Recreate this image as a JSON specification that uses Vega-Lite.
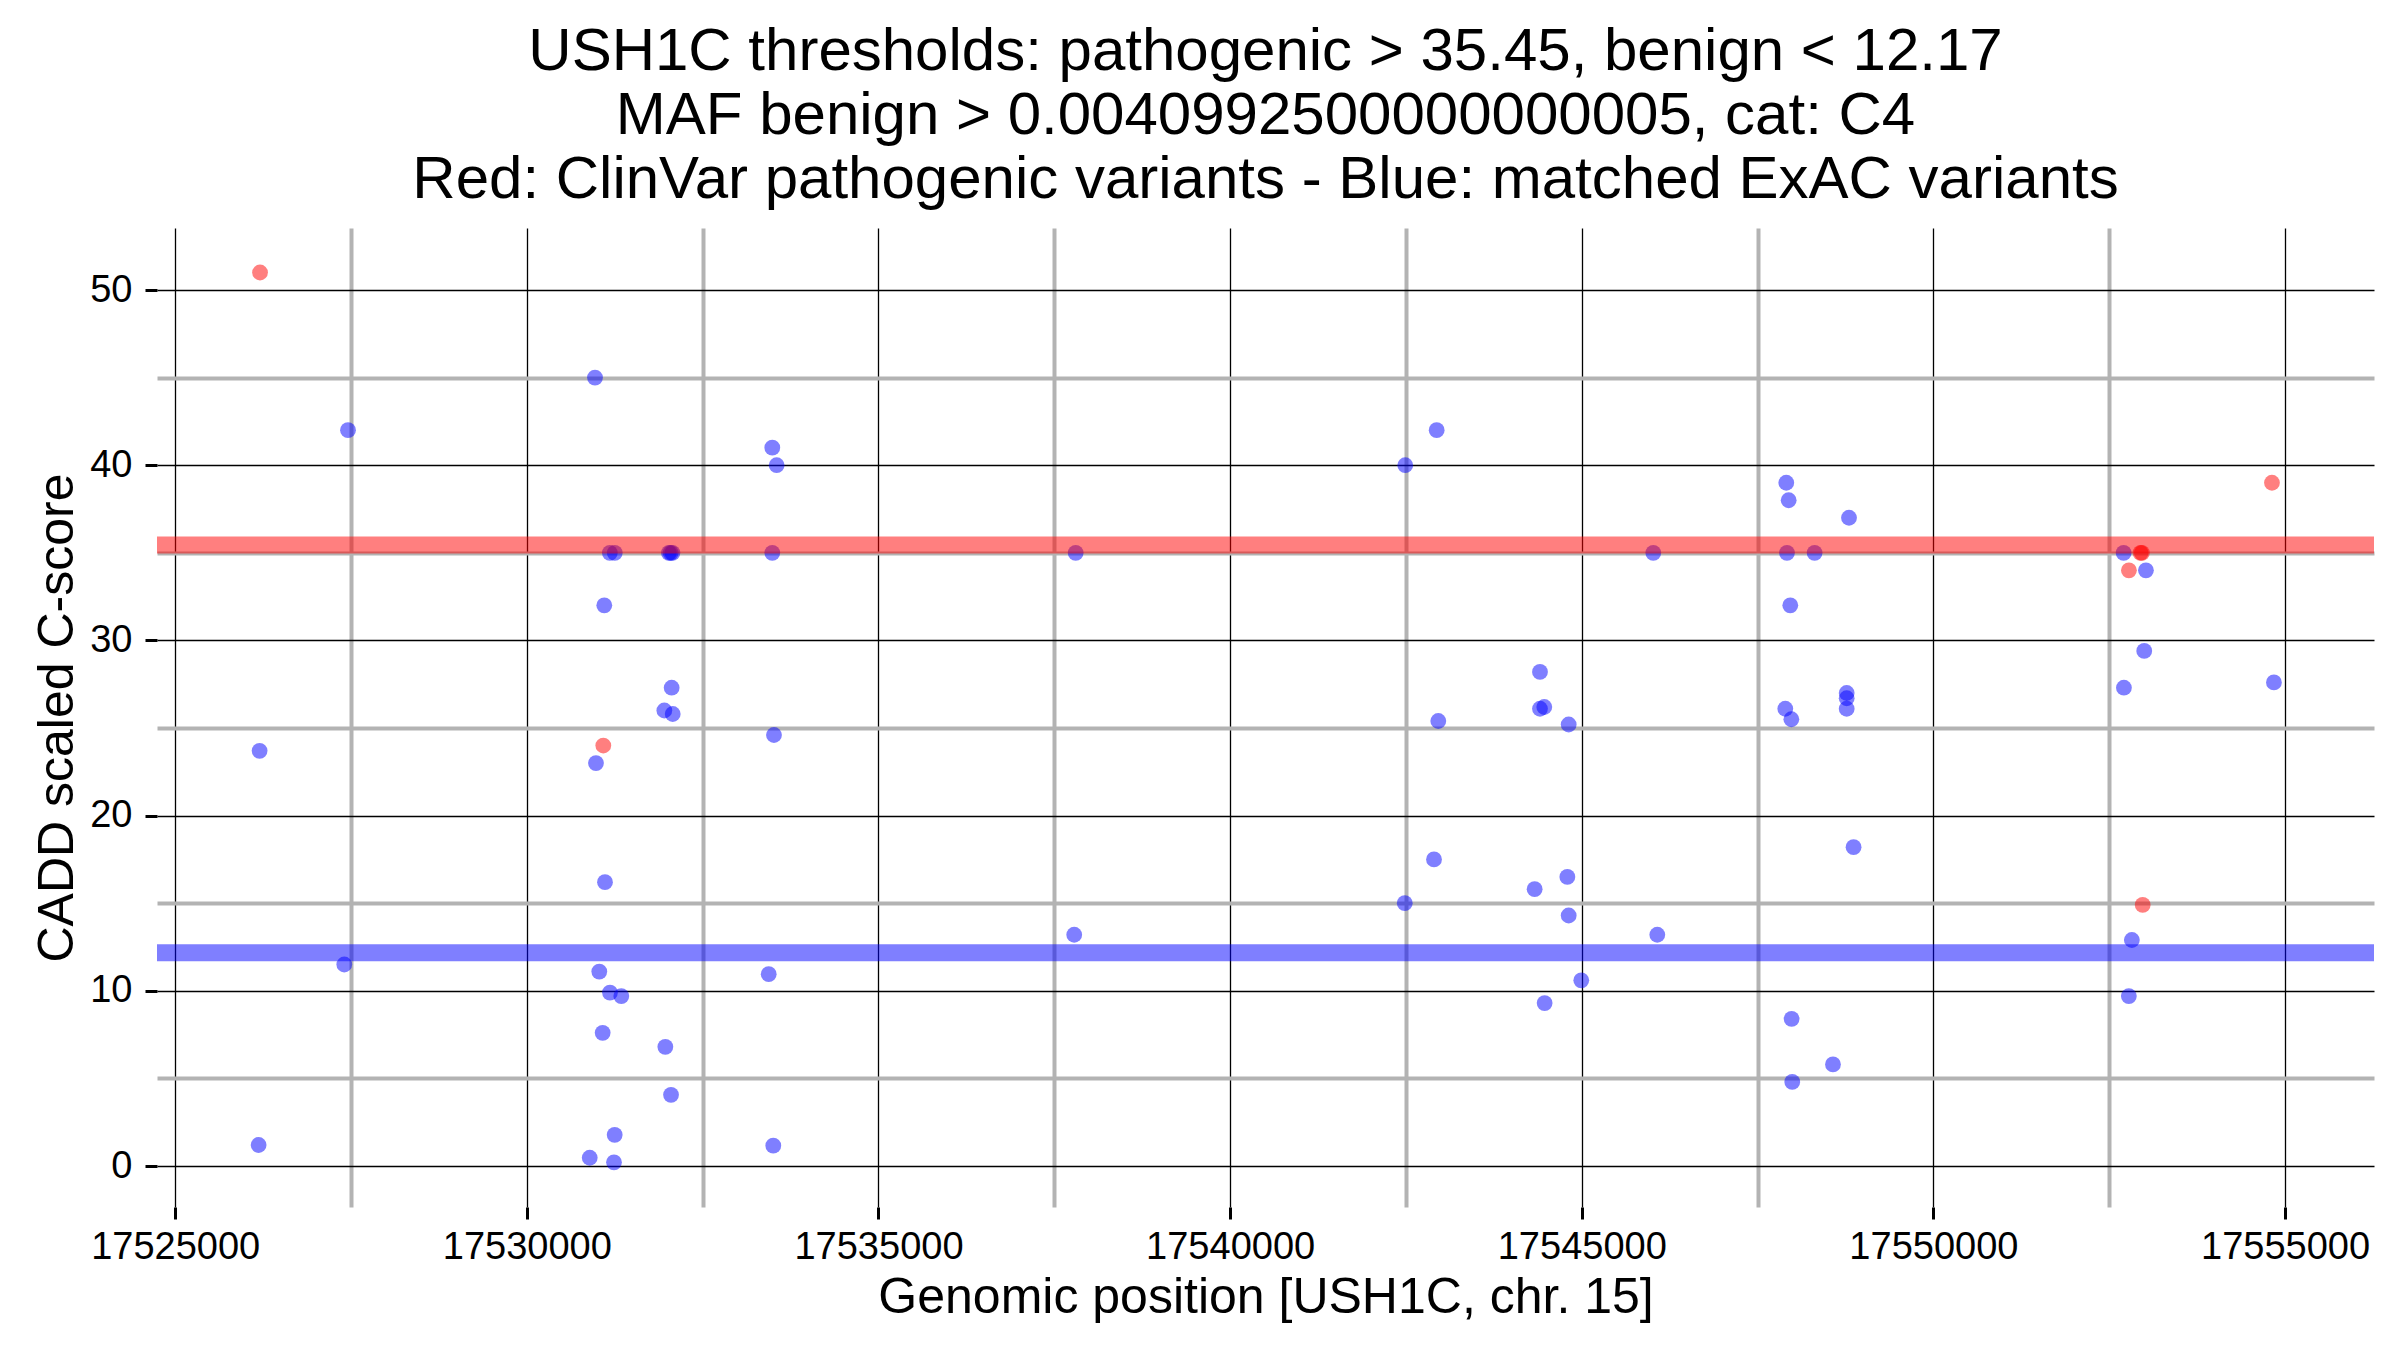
{
  "$schema": "https://vega.github.io/schema/vega-lite/v6.json",
  "width": 2217,
  "height": 979,
  "autosize": {"type": "none"},
  "padding": {"left": 157, "top": 228, "right": 26, "bottom": 143},
  "background": "white",
  "config": {"view": {"stroke": null}},
  "title": {
    "text": [
      "USH1C thresholds: pathogenic > 35.45, benign < 12.17",
      "MAF benign > 0.0040992500000000005, cat: C4",
      "Red: ClinVar pathogenic variants - Blue: matched ExAC variants"
    ],
    "font": "Liberation Sans",
    "fontSize": 60,
    "fontWeight": "normal",
    "lineHeight": 64,
    "anchor": "middle",
    "offset": 17,
    "color": "black"
  },
  "datasets": {
    "variants": [
      {"position": 17526200, "cadd": 23.7, "source": "ExAC"},
      {"position": 17526186, "cadd": 1.2, "source": "ExAC"},
      {"position": 17527457, "cadd": 42, "source": "ExAC"},
      {"position": 17527404, "cadd": 11.5, "source": "ExAC"},
      {"position": 17530969, "cadd": 45, "source": "ExAC"},
      {"position": 17533490, "cadd": 41, "source": "ExAC"},
      {"position": 17533552, "cadd": 40, "source": "ExAC"},
      {"position": 17531180, "cadd": 35, "source": "ExAC"},
      {"position": 17531250, "cadd": 35, "source": "ExAC"},
      {"position": 17532020, "cadd": 35, "source": "ExAC"},
      {"position": 17532045, "cadd": 35, "source": "ExAC"},
      {"position": 17532070, "cadd": 35, "source": "ExAC"},
      {"position": 17533490, "cadd": 35, "source": "ExAC"},
      {"position": 17531101, "cadd": 32, "source": "ExAC"},
      {"position": 17532059, "cadd": 27.3, "source": "ExAC"},
      {"position": 17531955, "cadd": 26.0, "source": "ExAC"},
      {"position": 17532074, "cadd": 25.8, "source": "ExAC"},
      {"position": 17533514, "cadd": 24.6, "source": "ExAC"},
      {"position": 17530983, "cadd": 23, "source": "ExAC"},
      {"position": 17531111, "cadd": 16.2, "source": "ExAC"},
      {"position": 17531030, "cadd": 11.1, "source": "ExAC"},
      {"position": 17531182, "cadd": 9.9, "source": "ExAC"},
      {"position": 17531343, "cadd": 9.7, "source": "ExAC"},
      {"position": 17531078, "cadd": 7.6, "source": "ExAC"},
      {"position": 17531969, "cadd": 6.8, "source": "ExAC"},
      {"position": 17532050, "cadd": 4.06, "source": "ExAC"},
      {"position": 17531249, "cadd": 1.78, "source": "ExAC"},
      {"position": 17530894, "cadd": 0.47, "source": "ExAC"},
      {"position": 17531239, "cadd": 0.21, "source": "ExAC"},
      {"position": 17533439, "cadd": 10.95, "source": "ExAC"},
      {"position": 17533504, "cadd": 1.16, "source": "ExAC"},
      {"position": 17537804, "cadd": 35, "source": "ExAC"},
      {"position": 17537783, "cadd": 13.2, "source": "ExAC"},
      {"position": 17542937, "cadd": 42, "source": "ExAC"},
      {"position": 17542490, "cadd": 40, "source": "ExAC"},
      {"position": 17546017, "cadd": 35, "source": "ExAC"},
      {"position": 17544406, "cadd": 28.2, "source": "ExAC"},
      {"position": 17544406, "cadd": 26.1, "source": "ExAC"},
      {"position": 17544467, "cadd": 26.2, "source": "ExAC"},
      {"position": 17542960, "cadd": 25.4, "source": "ExAC"},
      {"position": 17544814, "cadd": 25.2, "source": "ExAC"},
      {"position": 17542899, "cadd": 17.5, "source": "ExAC"},
      {"position": 17542483, "cadd": 15, "source": "ExAC"},
      {"position": 17544795, "cadd": 16.5, "source": "ExAC"},
      {"position": 17544330, "cadd": 15.8, "source": "ExAC"},
      {"position": 17544814, "cadd": 14.3, "source": "ExAC"},
      {"position": 17546074, "cadd": 13.2, "source": "ExAC"},
      {"position": 17544993, "cadd": 10.6, "source": "ExAC"},
      {"position": 17544472, "cadd": 9.3, "source": "ExAC"},
      {"position": 17547908, "cadd": 39, "source": "ExAC"},
      {"position": 17547942, "cadd": 38, "source": "ExAC"},
      {"position": 17548800, "cadd": 37, "source": "ExAC"},
      {"position": 17547918, "cadd": 35, "source": "ExAC"},
      {"position": 17548311, "cadd": 35, "source": "ExAC"},
      {"position": 17547965, "cadd": 32, "source": "ExAC"},
      {"position": 17547894, "cadd": 26.1, "source": "ExAC"},
      {"position": 17547980, "cadd": 25.5, "source": "ExAC"},
      {"position": 17548767, "cadd": 27.0, "source": "ExAC"},
      {"position": 17548767, "cadd": 26.7, "source": "ExAC"},
      {"position": 17548767, "cadd": 26.1, "source": "ExAC"},
      {"position": 17548865, "cadd": 18.2, "source": "ExAC"},
      {"position": 17547984, "cadd": 8.4, "source": "ExAC"},
      {"position": 17548572, "cadd": 5.8, "source": "ExAC"},
      {"position": 17547993, "cadd": 4.8, "source": "ExAC"},
      {"position": 17552705, "cadd": 35, "source": "ExAC"},
      {"position": 17553022, "cadd": 34, "source": "ExAC"},
      {"position": 17552998, "cadd": 29.4, "source": "ExAC"},
      {"position": 17552709, "cadd": 27.3, "source": "ExAC"},
      {"position": 17554842, "cadd": 27.6, "source": "ExAC"},
      {"position": 17552822, "cadd": 12.9, "source": "ExAC"},
      {"position": 17552779, "cadd": 9.7, "source": "ExAC"},
      {"position": 17526206, "cadd": 51, "source": "ClinVar"},
      {"position": 17531087, "cadd": 24, "source": "ClinVar"},
      {"position": 17554814, "cadd": 39, "source": "ClinVar"},
      {"position": 17552780, "cadd": 34, "source": "ClinVar"},
      {"position": 17552945, "cadd": 35, "source": "ClinVar"},
      {"position": 17552965, "cadd": 35, "source": "ClinVar"},
      {"position": 17552976, "cadd": 14.9, "source": "ClinVar"}
    ],
    "thresholds": [
      {"kind": "pathogenic", "cadd": 35.45},
      {"kind": "benign", "cadd": 12.17}
    ]
  },
  "resolve": {"axis": {"x": "independent", "y": "independent"}},
  "layer": [
    {
      "data": {"name": "variants"},
      "mark": {"type": "point", "opacity": 0},
      "encoding": {
        "x": {
          "field": "position",
          "type": "quantitative",
          "scale": {"domain": [17524741, 17556265], "nice": false, "zero": false},
          "axis": {
            "orient": "top",
            "values": [17527500, 17532500, 17537500, 17542500, 17547500, 17552500],
            "grid": true,
            "gridColor": "#b3b3b3",
            "gridWidth": 4,
            "labels": false,
            "ticks": false,
            "domain": false,
            "title": null
          }
        },
        "y": {
          "field": "cadd",
          "type": "quantitative",
          "scale": {"domain": [-2.34, 53.54], "nice": false, "zero": false},
          "axis": {
            "orient": "right",
            "values": [5, 15, 25, 35, 45],
            "grid": true,
            "gridColor": "#b3b3b3",
            "gridWidth": 4,
            "labels": false,
            "ticks": false,
            "domain": false,
            "title": null
          }
        }
      }
    },
    {
      "data": {"name": "variants"},
      "mark": {"type": "circle", "size": 250, "fillOpacity": 0.5, "strokeOpacity": 0.5, "strokeWidth": 2.5, "opacity": 1},
      "encoding": {
        "x": {
          "field": "position",
          "type": "quantitative",
          "axis": {
            "orient": "bottom",
            "values": [17525000, 17530000, 17535000, 17540000, 17545000, 17550000, 17555000],
            "format": "d",
            "grid": true,
            "gridColor": "black",
            "gridWidth": 1.3,
            "domain": false,
            "ticks": true,
            "tickColor": "black",
            "tickWidth": 3,
            "tickSize": 12,
            "labelFont": "Liberation Sans",
            "labelFontSize": 38,
            "labelColor": "black",
            "labelPadding": 9,
            "labelFlush": false,
            "labelOverlap": false,
            "title": "Genomic position [USH1C, chr. 15]",
            "titleFont": "Liberation Sans",
            "titleFontSize": 50,
            "titleFontWeight": "normal",
            "titleColor": "black",
            "titlePadding": 6
          }
        },
        "y": {
          "field": "cadd",
          "type": "quantitative",
          "axis": {
            "orient": "left",
            "values": [0, 10, 20, 30, 40, 50],
            "grid": true,
            "gridColor": "black",
            "gridWidth": 1.3,
            "domain": false,
            "ticks": true,
            "tickColor": "black",
            "tickWidth": 3,
            "tickSize": 12,
            "labelFont": "Liberation Sans",
            "labelFontSize": 38,
            "labelColor": "black",
            "labelPadding": 13,
            "labelOverlap": false,
            "title": "CADD scaled C-score",
            "titleFont": "Liberation Sans",
            "titleFontSize": 50,
            "titleFontWeight": "normal",
            "titleColor": "black",
            "titlePadding": 7
          }
        },
        "color": {
          "field": "source",
          "type": "nominal",
          "scale": {"domain": ["ClinVar", "ExAC"], "range": ["#ff0000", "#0000ff"]},
          "legend": null
        },
        "order": {"field": "source", "sort": "descending"}
      }
    },
    {
      "data": {"name": "thresholds"},
      "mark": {"type": "rule", "strokeWidth": 17, "opacity": 0.5},
      "encoding": {
        "y": {"field": "cadd", "type": "quantitative", "axis": null},
        "stroke": {
          "field": "kind",
          "type": "nominal",
          "scale": {"domain": ["pathogenic", "benign"], "range": ["#ff0000", "#0000ff"]},
          "legend": null
        }
      }
    }
  ]
}
